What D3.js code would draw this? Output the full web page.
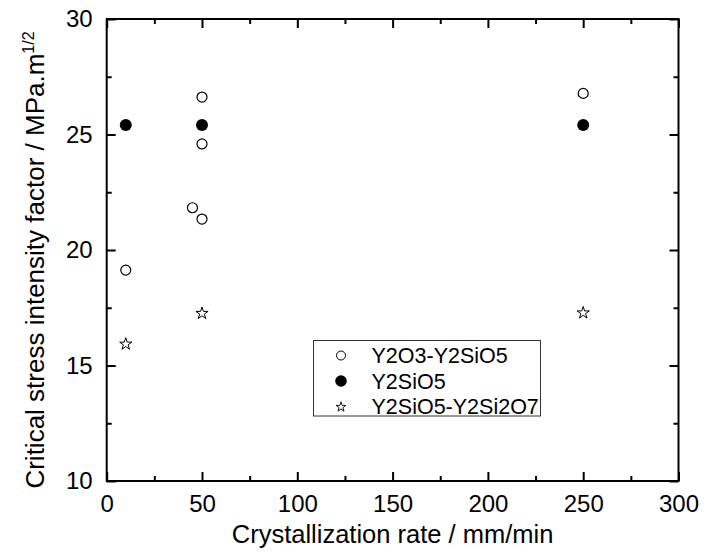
<!DOCTYPE html>
<html>
<head>
<meta charset="utf-8">
<script src="https://cdn.jsdelivr.net/npm/d3@7"></script>
<style>
  html, body { margin: 0; padding: 0; background: #fff; }
  svg { display: block; font-family: Arial, "Liberation Sans", Helvetica, sans-serif; }
</style>
</head>
<body>
<svg id="chart" width="719" height="552"></svg>
<script>
// Crystallization rate (mm/min) vs. critical stress intensity factor (MPa.m^1/2)
const seriesNames = ["Y2O3-Y2SiO5", "Y2SiO5", "Y2SiO5-Y2Si2O7"];

const rateY2O3Y2SiO5 = [10, 45, 50, 50, 50, 250];
const kY2O3Y2SiO5    = [19.13, 21.83, 21.34, 24.59, 26.62, 26.78];

const rateY2SiO5 = [10, 50, 250];
const kY2SiO5    = [25.41, 25.41, 25.41];

const rateY2SiO5Y2Si2O7 = [10, 50, 250];
const kY2SiO5Y2Si2O7    = [15.97, 17.30, 17.32];

const xTicks = [0, 50, 100, 150, 200, 250, 300];
const xMinorTicks = [25, 75, 125, 175, 225, 275];
const yTicks = [10, 15, 20, 25, 30];
const yMinorTicks = [12.5, 17.5, 22.5, 27.5];

const svg = d3.select("#chart");
const plotLeft = 106.7, plotRight = 678.5, plotTop = 19, plotBottom = 481;

const x = d3.scaleLinear().domain([0, 300]).range([plotLeft, plotRight]);
const y = d3.scaleLinear().domain([10, 30]).range([plotBottom, plotTop]);

const axisColor = "#000";
const tickFont = 24;

// frame axes (ticks pointing inward)
function styleAxis(g) {
  g.select(".domain").remove();
  g.selectAll("line").attr("stroke", axisColor).attr("stroke-width", 2);
}

svg.append("g").attr("transform", `translate(0,${plotBottom})`)
  .call(d3.axisBottom(x).tickValues(xTicks).tickSizeInner(-9).tickSizeOuter(0).tickPadding(14))
  .call(styleAxis)
  .call(g => g.selectAll("text").attr("font-size", tickFont).attr("fill", "#000")
    .attr("font-family", "Arial, 'Liberation Sans', sans-serif").attr("dy", "0.71em"));
svg.append("g").attr("transform", `translate(0,${plotBottom})`)
  .call(d3.axisBottom(x).tickValues(xMinorTicks).tickSizeInner(-5).tickSizeOuter(0).tickFormat(""))
  .call(styleAxis);
svg.append("g").attr("transform", `translate(0,${plotTop})`)
  .call(d3.axisTop(x).tickValues(xTicks).tickSizeInner(-9).tickSizeOuter(0).tickFormat(""))
  .call(styleAxis);
svg.append("g").attr("transform", `translate(0,${plotTop})`)
  .call(d3.axisTop(x).tickValues(xMinorTicks).tickSizeInner(-5).tickSizeOuter(0).tickFormat(""))
  .call(styleAxis);

svg.append("g").attr("transform", `translate(${plotLeft},0)`)
  .call(d3.axisLeft(y).tickValues(yTicks).tickSizeInner(-9).tickSizeOuter(0).tickPadding(14))
  .call(styleAxis)
  .call(g => g.selectAll("text").attr("font-size", tickFont).attr("fill", "#000")
    .attr("font-family", "Arial, 'Liberation Sans', sans-serif"));
svg.append("g").attr("transform", `translate(${plotLeft},0)`)
  .call(d3.axisLeft(y).tickValues(yMinorTicks).tickSizeInner(-5).tickSizeOuter(0).tickFormat(""))
  .call(styleAxis);
svg.append("g").attr("transform", `translate(${plotRight},0)`)
  .call(d3.axisRight(y).tickValues(yTicks).tickSizeInner(-9).tickSizeOuter(0).tickFormat(""))
  .call(styleAxis);
svg.append("g").attr("transform", `translate(${plotRight},0)`)
  .call(d3.axisRight(y).tickValues(yMinorTicks).tickSizeInner(-5).tickSizeOuter(0).tickFormat(""))
  .call(styleAxis);

// plot frame
svg.append("rect")
  .attr("x", plotLeft).attr("y", plotTop)
  .attr("width", plotRight - plotLeft).attr("height", plotBottom - plotTop)
  .attr("fill", "none").attr("stroke", axisColor).attr("stroke-width", 2);

// axis titles
svg.append("text")
  .attr("x", (plotLeft + plotRight) / 2).attr("y", 543)
  .attr("text-anchor", "middle").attr("font-size", 25.5)
  .text("Crystallization rate / mm/min");

const yTitle = svg.append("text")
  .attr("transform", `translate(44,${(plotTop + plotBottom) / 2 + 10}) rotate(-90)`)
  .attr("text-anchor", "middle").attr("font-size", 26);
yTitle.append("tspan").text("Critical stress intensity factor / MPa.m");
yTitle.append("tspan").attr("dy", -10).attr("font-size", 16).text("1/2");

// markers
const starPath = d3.symbol(d3.symbolStar, 46)();
const starPathSmall = d3.symbol(d3.symbolStar, 30)();

svg.append("g").selectAll("circle")
  .data(d3.zip(rateY2O3Y2SiO5, kY2O3Y2SiO5))
  .join("circle")
  .attr("cx", d => x(d[0])).attr("cy", d => y(d[1])).attr("r", 5)
  .attr("fill", "#fff").attr("stroke", "#000").attr("stroke-width", 1.2);

svg.append("g").selectAll("circle")
  .data(d3.zip(rateY2SiO5, kY2SiO5))
  .join("circle")
  .attr("cx", d => x(d[0])).attr("cy", d => y(d[1])).attr("r", 6)
  .attr("fill", "#000");

svg.append("g").selectAll("path")
  .data(d3.zip(rateY2SiO5Y2Si2O7, kY2SiO5Y2Si2O7))
  .join("path")
  .attr("d", starPath)
  .attr("transform", d => `translate(${x(d[0])},${y(d[1]) + 1})`)
  .attr("fill", "#fff").attr("stroke", "#000").attr("stroke-width", 1);

// legend
const legend = svg.append("g");
legend.append("rect")
  .attr("x", 313.5).attr("y", 340.5).attr("width", 227).attr("height", 75.5)
  .attr("fill", "#fff").attr("stroke", "#333").attr("stroke-width", 1);

const rowY = [355.5, 381, 406.5];
const symX = 341;
legend.append("circle").attr("cx", symX).attr("cy", rowY[0]).attr("r", 4.5)
  .attr("fill", "#fff").attr("stroke", "#000").attr("stroke-width", 1);
legend.append("circle").attr("cx", symX).attr("cy", rowY[1]).attr("r", 5.8)
  .attr("fill", "#000");
legend.append("path").attr("d", starPathSmall)
  .attr("transform", `translate(${symX},${rowY[2] + 0.5})`)
  .attr("fill", "#fff").attr("stroke", "#000").attr("stroke-width", 0.9);

legend.selectAll("text.lbl")
  .data(seriesNames)
  .join("text")
  .attr("class", "lbl")
  .attr("x", 371.5).attr("y", (d, i) => rowY[i])
  .attr("dy", "0.36em")
  .attr("font-size", 21.5)
  .text(d => d);
</script>
</body>
</html>
